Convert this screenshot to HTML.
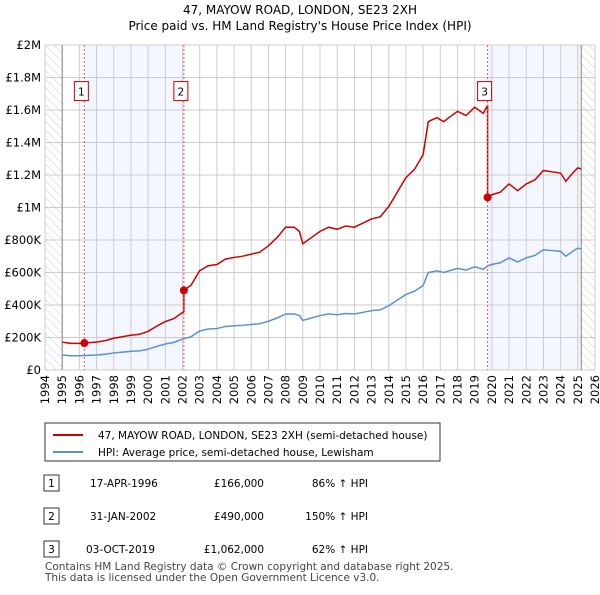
<!DOCTYPE html>
<html><head><meta charset="utf-8"><style>
body{margin:0;background:#fff;font-family:"Liberation Sans","DejaVu Sans",sans-serif;}
svg text{font-family:"DejaVu Sans","Liberation Sans",sans-serif;}
</style></head><body>
<svg id="c" width="600" height="590" xmlns="http://www.w3.org/2000/svg">
<defs><pattern id="h" width="6" height="6" patternUnits="userSpaceOnUse" patternTransform="rotate(-45)"><line x1="0" y1="0" x2="0" y2="6" stroke="#ccc" stroke-width="1"/></pattern></defs>
<text x="300" y="14" text-anchor="middle" font-size="12">47, MAYOW ROAD, LONDON, SE23 2XH</text>
<text x="300" y="30" text-anchor="middle" font-size="12">Price paid vs. HM Land Registry's House Price Index (HPI)</text>
<g id="plot"></g>
<g>
<rect x="45" y="423" width="395" height="38" fill="#fff" stroke="#333"/>
<line x1="53" y1="435" x2="83" y2="435" stroke="#cc0000" stroke-width="2"/>
<text x="98" y="439" font-size="10.5">47, MAYOW ROAD, LONDON, SE23 2XH (semi-detached house)</text>
<line x1="53" y1="452" x2="83" y2="452" stroke="#5b8fd4" stroke-width="2"/>
<text x="98" y="456" font-size="10.5">HPI: Average price, semi-detached house, Lewisham</text>
</g>
<g font-size="10.5">
<rect x="44" y="475" width="15" height="16" fill="#fff" stroke="#333"/><text x="51.5" y="487" text-anchor="middle">1</text>
<text x="90" y="487">17-APR-1996</text><text x="264" y="487" text-anchor="end">£166,000</text><text x="368" y="487" text-anchor="end">86% ↑ HPI</text>
<rect x="44" y="508" width="15" height="16" fill="#fff" stroke="#333"/><text x="51.5" y="520" text-anchor="middle">2</text>
<text x="90" y="520">31-JAN-2002</text><text x="264" y="520" text-anchor="end">£490,000</text><text x="368" y="520" text-anchor="end">150% ↑ HPI</text>
<rect x="44" y="541" width="15" height="16" fill="#fff" stroke="#333"/><text x="51.5" y="553" text-anchor="middle">3</text>
<text x="86" y="553">03-OCT-2019</text><text x="264" y="553" text-anchor="end">£1,062,000</text><text x="368" y="553" text-anchor="end">62% ↑ HPI</text>
</g>
<text x="45" y="570" font-size="10.5" fill="#444">Contains HM Land Registry data © Crown copyright and database right 2025.</text>
<text x="45" y="581" font-size="10.5" fill="#444">This data is licensed under the Open Government Licence v3.0.</text>
</svg>
<script>
const hpiYears=[1995.0,1995.5,1996.0,1996.5,1997.0,1997.5,1998.0,1998.5,1999.0,1999.5,2000.0,2000.5,2001.0,2001.5,2002.0,2002.5,2003.0,2003.5,2004.0,2004.5,2005.0,2005.5,2006.0,2006.5,2007.0,2007.5,2008.0,2008.5,2008.8,2009.0,2009.5,2010.0,2010.5,2011.0,2011.5,2012.0,2012.5,2013.0,2013.5,2014.0,2014.5,2015.0,2015.5,2016.0,2016.3,2016.8,2017.2,2017.5,2018.0,2018.5,2019.0,2019.5,2019.75,2020.0,2020.5,2021.0,2021.5,2022.0,2022.5,2023.0,2023.5,2024.0,2024.3,2024.7,2025.0,2025.2];
const hpiValues=[92,88,88,90,92,97,105,110,115,118,128,145,160,170,190,205,240,252,255,268,272,275,280,285,300,320,345,345,335,305,320,335,345,340,348,345,355,365,370,395,430,465,485,520,600,610,600,610,625,615,635,620,640,650,660,690,665,690,705,740,735,730,700,730,750,745];
const saleYears=[1996.29,2002.08,2019.75];
const salePrices=[166,490,1062];
const saleLabels=["1","2","3"];
const yTicks=[0,200,400,600,800,1000,1200,1400,1600,1800,2000];
const yTickLabels=["£0","£200K","£400K","£600K","£800K","£1M","£1.2M","£1.4M","£1.6M","£1.8M","£2M"];
const xTicks=[1994,1995,1996,1997,1998,1999,2000,2001,2002,2003,2004,2005,2006,2007,2008,2009,2010,2011,2012,2013,2014,2015,2016,2017,2018,2019,2020,2021,2022,2023,2024,2025,2026];
const X0=45,X1=595,Y0=370,Y1=45;
const x=v=>X0+(v-1994)/32*(X1-X0);
const y=v=>Y0-v/2000*(Y0-Y1);
const NS="http://www.w3.org/2000/svg";
const g=document.getElementById('plot');
function mk(t,a,p){const e=document.createElementNS(NS,t);for(const k in a)e.setAttribute(k,a[k]);(p||g).appendChild(e);return e;}
function hpiAt(t){for(let i=1;i<hpiYears.length;i++){if(t<=hpiYears[i]){const f=(t-hpiYears[i-1])/(hpiYears[i]-hpiYears[i-1]);return hpiValues[i-1]+f*(hpiValues[i]-hpiValues[i-1]);}}return hpiValues[hpiValues.length-1];}
let e;
e=mk('rect',{x:x(1996.29),y:Y1,width:x(2002.08)-x(1996.29),height:Y0-Y1,fill:'#f3f6fd'});


e=mk('rect',{x:x(2019.75),y:Y1,width:x(2025.2)-x(2019.75),height:Y0-Y1,fill:'#f3f6fd'});


xTicks.forEach(t=>{e=mk('line',{x1:x(t),x2:x(t),y1:Y1,y2:Y0,stroke:'#ccc'});


e=mk('text',{transform:`translate(${x(t)+4},${Y0+5}) rotate(-90)`,'text-anchor':'end','font-size':'11.5'});e.textContent=t;

});
yTicks.forEach((t,i)=>{e=mk('line',{x1:X0,x2:X1,y1:y(t),y2:y(t),stroke:'#ccc'});


e=mk('text',{x:X0-4,y:y(t)+4,'text-anchor':'end','font-size':'11.5'});e.textContent=yTickLabels[i];

});
e=mk('rect',{x:X0,y:Y1,width:x(1995)-X0,height:Y0-Y1,fill:'url(#h)'});


e=mk('rect',{x:x(2025.2),y:Y1,width:X1-x(2025.2),height:Y0-Y1,fill:'url(#h)'});


mk('line',{x1:x(1995),x2:x(1995),y1:Y1,y2:Y0,stroke:'#888'});
mk('line',{x1:x(2025.2),x2:x(2025.2),y1:Y1,y2:Y0,stroke:'#888'});
e=mk('polyline',{points:hpiYears.map((t,i)=>x(t)+','+y(hpiValues[i])).join(' '),fill:'none',stroke:'#5b8fd4','stroke-width':1.5});


let pts=[];
for(let s=0;s<saleYears.length;s++){
 const start=s==0?1995:saleYears[s],end=s+1<saleYears.length?saleYears[s+1]:2025.2;
 const f=salePrices[s]/hpiAt(saleYears[s]);
 const ts=[start].concat(hpiYears.filter(t=>t>start&&t<end)).concat([end]);
 ts.forEach(t=>pts.push(x(t)+','+y(hpiAt(t)*f)));
}
e=mk('polyline',{points:pts.join(' '),fill:'none',stroke:'#cc0000','stroke-width':1.5});


saleYears.forEach((t,i)=>{
 e=mk('line',{x1:x(t),x2:x(t),y1:Y1,y2:Y0,stroke:'#e55','stroke-dasharray':'2,2'});
 
 
 e=mk('circle',{cx:x(t),cy:y(salePrices[i]),r:4,fill:'#cc0000'});
 
 
 e=mk('rect',{x:x(t)-10,y:y(1775),width:14,height:19,fill:'#fff',stroke:'#cc0000'});
 
 
 e=mk('text',{x:x(t)-3,y:y(1775)+14,'text-anchor':'middle','font-size':'10.5'});e.textContent=saleLabels[i];
 
 
});
</script>
</body></html>
